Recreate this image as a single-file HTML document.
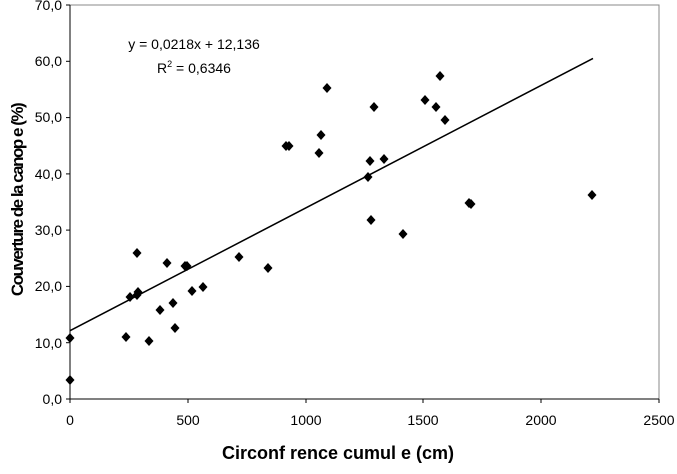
<!DOCTYPE html>
<html><head><meta charset="utf-8"><style>body{margin:0;background:#fff}</style></head><body>
<svg width="677" height="469" xmlns="http://www.w3.org/2000/svg" font-family="Liberation Sans, sans-serif">
<rect width="677" height="469" fill="#fff"/>
<rect x="70" y="5" width="589" height="394" fill="none" stroke="#888" stroke-width="1"/>
<line x1="70" y1="5" x2="70" y2="399" stroke="#000"/>
<line x1="70" y1="399" x2="659" y2="399" stroke="#000"/>
<g stroke="#000">
<line x1="66" y1="5" x2="70" y2="5"/><line x1="66" y1="61.3" x2="70" y2="61.3"/><line x1="66" y1="117.6" x2="70" y2="117.6"/><line x1="66" y1="173.9" x2="70" y2="173.9"/><line x1="66" y1="230.1" x2="70" y2="230.1"/><line x1="66" y1="286.4" x2="70" y2="286.4"/><line x1="66" y1="342.7" x2="70" y2="342.7"/><line x1="66" y1="399" x2="70" y2="399"/>
<line x1="70" y1="399" x2="70" y2="403"/><line x1="188" y1="399" x2="188" y2="403"/><line x1="306" y1="399" x2="306" y2="403"/><line x1="423" y1="399" x2="423" y2="403"/><line x1="541" y1="399" x2="541" y2="403"/><line x1="659" y1="399" x2="659" y2="403"/>
</g>
<g font-size="14" text-anchor="end" fill="#000">
<text x="62" y="10">70,0</text><text x="62" y="66">60,0</text><text x="62" y="122">50,0</text><text x="62" y="179">40,0</text><text x="62" y="235">30,0</text><text x="62" y="291">20,0</text><text x="62" y="348">10,0</text><text x="62" y="404">0,0</text>
</g>
<g font-size="14" text-anchor="middle">
<text x="70" y="425">0</text><text x="188" y="425">500</text><text x="306" y="425">1000</text><text x="423" y="425">1500</text><text x="541" y="425">2000</text><text x="659" y="425">2500</text>
</g>
<text x="338" y="459" font-size="18" font-weight="bold" text-anchor="middle">Circonf  rence cumul  e (cm)</text>
<text transform="translate(23,200) rotate(-90)" font-size="17" font-weight="bold" text-anchor="middle" letter-spacing="-1.5">Couverture de la canop  e (%)</text>
<text x="194" y="49" font-size="14" text-anchor="middle">y = 0,0218x + 12,136</text>
<text x="194" y="73" font-size="14" text-anchor="middle">R<tspan dy="-6" font-size="9">2</tspan><tspan dy="6"> = 0,6346</tspan></text>
<line x1="70" y1="330.7" x2="593" y2="58.4" stroke="#000" stroke-width="1.5"/>
<g fill="#000">
<path d="M0,-5L4.5,0L0,5L-4.5,0Z" transform="translate(70,380)"/>
<path d="M0,-5L4.5,0L0,5L-4.5,0Z" transform="translate(70,338)"/>
<path d="M0,-5L4.5,0L0,5L-4.5,0Z" transform="translate(126,337)"/>
<path d="M0,-5L4.5,0L0,5L-4.5,0Z" transform="translate(130,297)"/>
<path d="M0,-5L4.5,0L0,5L-4.5,0Z" transform="translate(137,253)"/>
<path d="M0,-5L4.5,0L0,5L-4.5,0Z" transform="translate(138,292)"/>
<path d="M0,-5L4.5,0L0,5L-4.5,0Z" transform="translate(137,295)"/>
<path d="M0,-5L4.5,0L0,5L-4.5,0Z" transform="translate(149,341)"/>
<path d="M0,-5L4.5,0L0,5L-4.5,0Z" transform="translate(160,310)"/>
<path d="M0,-5L4.5,0L0,5L-4.5,0Z" transform="translate(167,263)"/>
<path d="M0,-5L4.5,0L0,5L-4.5,0Z" transform="translate(173,303)"/>
<path d="M0,-5L4.5,0L0,5L-4.5,0Z" transform="translate(175,328)"/>
<path d="M0,-5L4.5,0L0,5L-4.5,0Z" transform="translate(185,266)"/>
<path d="M0,-5L4.5,0L0,5L-4.5,0Z" transform="translate(187,266)"/>
<path d="M0,-5L4.5,0L0,5L-4.5,0Z" transform="translate(192,291)"/>
<path d="M0,-5L4.5,0L0,5L-4.5,0Z" transform="translate(203,287)"/>
<path d="M0,-5L4.5,0L0,5L-4.5,0Z" transform="translate(239,257)"/>
<path d="M0,-5L4.5,0L0,5L-4.5,0Z" transform="translate(268,268)"/>
<path d="M0,-5L4.5,0L0,5L-4.5,0Z" transform="translate(286,146)"/>
<path d="M0,-5L4.5,0L0,5L-4.5,0Z" transform="translate(289,146)"/>
<path d="M0,-5L4.5,0L0,5L-4.5,0Z" transform="translate(319,153)"/>
<path d="M0,-5L4.5,0L0,5L-4.5,0Z" transform="translate(321,135)"/>
<path d="M0,-5L4.5,0L0,5L-4.5,0Z" transform="translate(327,88)"/>
<path d="M0,-5L4.5,0L0,5L-4.5,0Z" transform="translate(368,177)"/>
<path d="M0,-5L4.5,0L0,5L-4.5,0Z" transform="translate(371,220)"/>
<path d="M0,-5L4.5,0L0,5L-4.5,0Z" transform="translate(374,107)"/>
<path d="M0,-5L4.5,0L0,5L-4.5,0Z" transform="translate(370,161)"/>
<path d="M0,-5L4.5,0L0,5L-4.5,0Z" transform="translate(384,159)"/>
<path d="M0,-5L4.5,0L0,5L-4.5,0Z" transform="translate(403,234)"/>
<path d="M0,-5L4.5,0L0,5L-4.5,0Z" transform="translate(425,100)"/>
<path d="M0,-5L4.5,0L0,5L-4.5,0Z" transform="translate(436,107)"/>
<path d="M0,-5L4.5,0L0,5L-4.5,0Z" transform="translate(440,76)"/>
<path d="M0,-5L4.5,0L0,5L-4.5,0Z" transform="translate(445,120)"/>
<path d="M0,-5L4.5,0L0,5L-4.5,0Z" transform="translate(469,203)"/>
<path d="M0,-5L4.5,0L0,5L-4.5,0Z" transform="translate(471,204)"/>
<path d="M0,-5L4.5,0L0,5L-4.5,0Z" transform="translate(592,195)"/>
</g>
</svg>
</body></html>
